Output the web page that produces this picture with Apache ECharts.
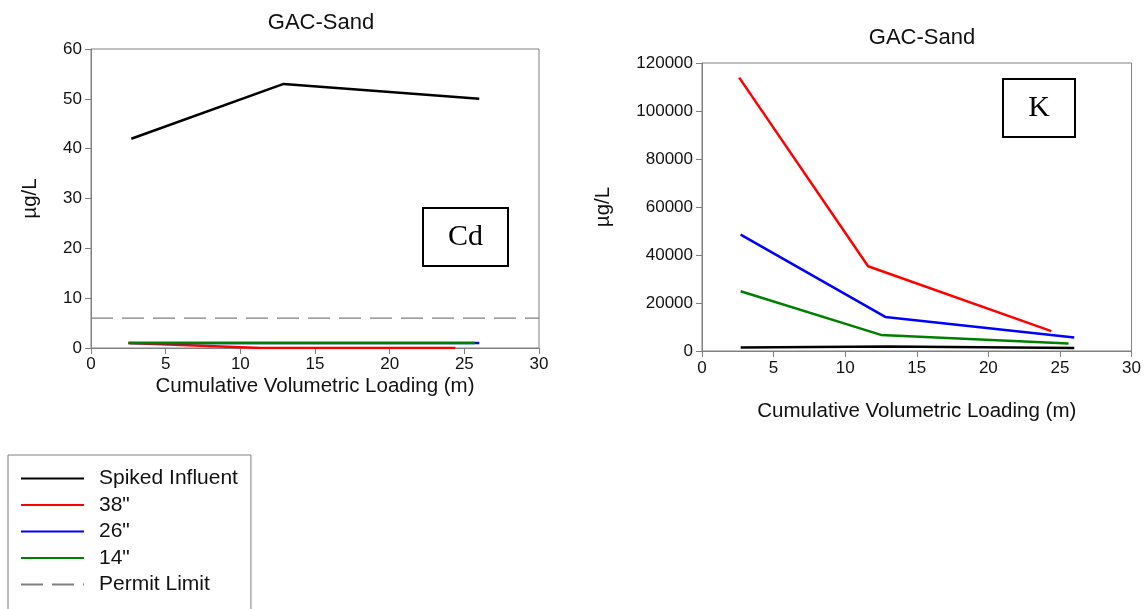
<!DOCTYPE html>
<html>
<head>
<meta charset="utf-8">
<script src="https://cdn.jsdelivr.net/npm/echarts@6/dist/echarts.min.js"></script>
<style>
html,body{margin:0;padding:0;background:#fff;}
#chart{width:1144px;height:609px;}
</style>
</head>
<body>
<div id="chart"></div>
<script>
// ---- Data ----
const xTicks = [0, 5, 10, 15, 20, 25, 30];
const seriesNames = ['Spiked Influent', '38"', '26"', '14"', 'Permit Limit'];

// Cd panel (µg/L)
const cdInfluentX = [2.7, 12.9, 26.0];
const cdInfluentY = [42, 53, 50];
const cd38X = [2.5, 11.4, 24.4];
const cd38Y = [1, 0, 0];
const cd26X = [2.6, 12.9, 26.0];
const cd26Y = [1, 1, 1];
const cd14X = [2.5, 12.9, 25.7];
const cd14Y = [1, 1, 1];
const permitX = [0, 30];
const permitCdY = [6, 6];

// K panel (µg/L)
const kInfluentX = [2.7, 13.0, 26.0];
const kInfluentY = [1500, 1900, 1300];
const k38X = [2.6, 11.6, 24.4];
const k38Y = [113900, 35300, 8300];
const k26X = [2.7, 12.8, 26.0];
const k26Y = [48500, 14200, 5600];
const k14X = [2.7, 12.5, 25.6];
const k14Y = [24900, 6700, 3100];

const colors = ['#000000', '#ff0000', '#0000ff', '#008000', '#808080'];
const FONT = 'Liberation Sans, Arial, sans-serif';

function pairs(xs, ys) { return xs.map((x, i) => [x, ys[i]]); }

function lineSeries(name, xs, ys, idx, color, extra) {
  return Object.assign({
    name: name, type: 'line', xAxisIndex: idx, yAxisIndex: idx,
    data: pairs(xs, ys), symbol: 'none', showSymbol: false,
    lineStyle: { color: color, width: 2.5 }, itemStyle: { color: color },
    animation: false, silent: true
  }, extra || {});
}

const axisCommon = {
  axisLine: { show: true, lineStyle: { color: '#808080', width: 1 } },
  axisTick: { show: true, inside: false, length: 6, lineStyle: { color: '#808080' } },
  splitLine: { show: false },
  axisLabel: { color: '#111', fontFamily: FONT, fontSize: 17, margin: 9,
               formatter: function (v) { return String(v); } },
  nameTextStyle: { color: '#111', fontFamily: FONT, fontSize: 20.5 },
  nameMoveOverlap: false
};

function xAx(idx, gap, lblMargin) {
  return Object.assign({}, axisCommon, {
    type: 'value', gridIndex: idx, min: 0, max: 30, interval: 5,
    name: 'Cumulative Volumetric Loading (m)', nameLocation: 'middle', nameGap: gap,
    axisLabel: Object.assign({}, axisCommon.axisLabel, { margin: lblMargin })
  });
}
function yAx(idx, max, interval, gap) {
  return Object.assign({}, axisCommon, {
    type: 'value', gridIndex: idx, min: 0, max: max, interval: interval,
    name: 'µg/L', nameLocation: 'middle', nameGap: gap, nameRotate: 90
  });
}

const chart = echarts.init(document.getElementById('chart'), null, { renderer: 'canvas' });
chart.setOption({
  animation: false,
  backgroundColor: '#ffffff',
  title: [
    { text: 'GAC-Sand', left: 316, top: 7, textAlign: 'center',
      textStyle: { fontFamily: FONT, fontSize: 22, fontWeight: 'normal', color: '#111' } },
    { text: 'GAC-Sand', left: 917, top: 22, textAlign: 'center',
      textStyle: { fontFamily: FONT, fontSize: 22, fontWeight: 'normal', color: '#111' } }
  ],
  grid: [
    { left: 91, top: 49, width: 448, height: 299, show: true, borderColor: '#808080', borderWidth: 1 },
    { left: 702, top: 63, width: 432, height: 288, show: true, borderColor: '#808080', borderWidth: 1 }
  ],
  xAxis: [xAx(0, 28, 8), xAx(1, 50, 9)],
  yAxis: [yAx(0, 60, 10, 50), yAx(1, 120000, 20000, 88)],
  legend: {
    show: true, orient: 'vertical', left: 8, top: 455, height: 160,
    data: seriesNames,
    itemWidth: 63, itemHeight: 14, itemGap: 5.5,
    padding: [13, 13, 16, 12],
    borderColor: '#808080', borderWidth: 1, backgroundColor: '#ffffff',
    itemStyle: { opacity: 0 },
    textStyle: { fontFamily: FONT, fontSize: 21, color: '#111', lineHeight: 21, padding: [0, 0, 0, 10] },
    selectedMode: false
  },
  series: [
    lineSeries('Spiked Influent', cdInfluentX, cdInfluentY, 0, colors[0]),
    lineSeries('38"', cd38X, cd38Y, 0, colors[1]),
    lineSeries('26"', cd26X, cd26Y, 0, colors[2]),
    lineSeries('14"', cd14X, cd14Y, 0, colors[3]),
    lineSeries('Permit Limit', permitX, permitCdY, 0, colors[4],
      { lineStyle: { color: colors[4], width: 1.2, type: [22, 9] } }),
    lineSeries('Spiked Influent', kInfluentX, kInfluentY, 1, colors[0]),
    lineSeries('38"', k38X, k38Y, 1, colors[1]),
    lineSeries('26"', k26X, k26Y, 1, colors[2]),
    lineSeries('14"', k14X, k14Y, 1, colors[3])
  ],
  graphic: [
    { type: 'rect', shape: { x: 423, y: 208, width: 85, height: 58 },
      style: { fill: '#fff', stroke: '#000', lineWidth: 2 }, z: 100 },
    { type: 'text', x: 465.5, y: 237, z: 101,
      style: { text: 'Cd', font: '30px "Liberation Serif", "Times New Roman", serif', fill: '#000', align: 'center', verticalAlign: 'middle' } },
    { type: 'rect', shape: { x: 1003, y: 79, width: 72, height: 58 },
      style: { fill: '#fff', stroke: '#000', lineWidth: 2 }, z: 100 },
    { type: 'text', x: 1039, y: 108, z: 101,
      style: { text: 'K', font: '30px "Liberation Serif", "Times New Roman", serif', fill: '#000', align: 'center', verticalAlign: 'middle' } }
  ]
});
</script>
</body>
</html>
